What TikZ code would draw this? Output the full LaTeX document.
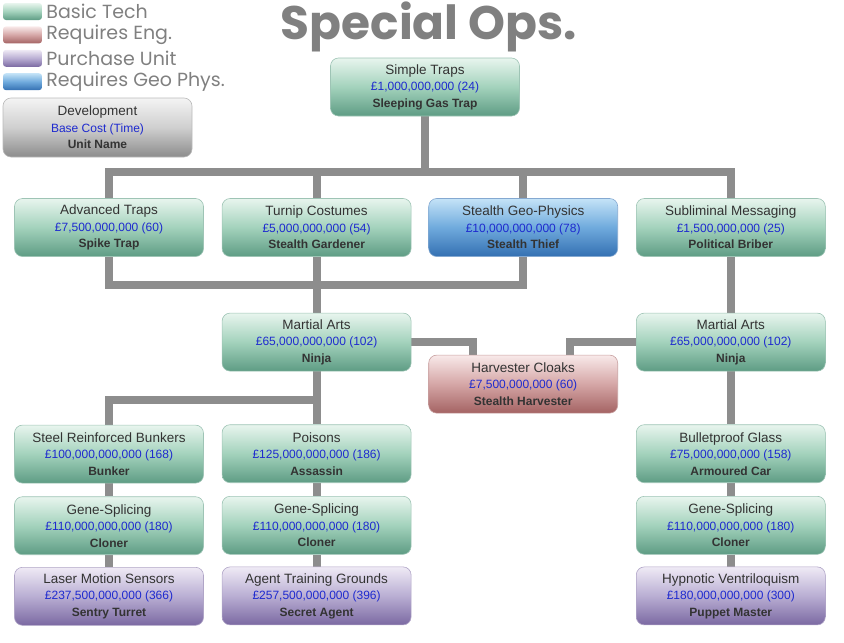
\documentclass[tikz,border=0pt]{standalone}
\usepackage{fontspec}
\setmainfont{Liberation Sans}
\newfontfamily\handfont{Poppins}
\usetikzlibrary{positioning,backgrounds}

\definecolor{techtop}{HTML}{E8F5EE}
\definecolor{techmid}{HTML}{A3D2BC}
\definecolor{techbot}{HTML}{5E9C84}
\definecolor{engtop}{HTML}{F8E9E9}
\definecolor{engmid}{HTML}{D5A6A6}
\definecolor{engbot}{HTML}{A46363}
\definecolor{unittop}{HTML}{EFEAF5}
\definecolor{unitmid}{HTML}{B9AED3}
\definecolor{unitbot}{HTML}{7B69A2}
\definecolor{geotop}{HTML}{C4E3F7}
\definecolor{geomid}{HTML}{6FAADD}
\definecolor{geobot}{HTML}{3470B2}
\definecolor{devtop}{HTML}{F4F4F4}
\definecolor{devmid}{HTML}{CFCFCF}
\definecolor{devbot}{HTML}{8C8C8C}
\definecolor{linkgray}{HTML}{8D8D8D}
\definecolor{namegray}{HTML}{333333}
\definecolor{costblue}{HTML}{1E2ACF}
\definecolor{handgray}{HTML}{808080}

\newcommand{\techtext}[3]{{\color{namegray}#1}\\{\fontsize{12}{16.5}\selectfont\color{costblue}#2}\\{\fontsize{12}{16}\selectfont\bfseries\color{namegray}#3}}

\begin{document}
\begin{tikzpicture}[x=1pt,y=1pt,
    font=\fontsize{13.5}{16.5}\selectfont,
    box/.style={rounded corners=8pt,minimum width=189pt,minimum height=58pt,
      align=center,inner sep=2pt,line width=.6pt},
    tech/.style={box,top color=techtop,bottom color=techbot,middle color=techmid,draw=techbot!60!white},
    eng/.style={box,top color=engtop,bottom color=engbot,middle color=engmid,draw=engbot!60!white},
    unit/.style={box,top color=unittop,bottom color=unitbot,middle color=unitmid,draw=unitbot!60!white},
    geo/.style={box,top color=geotop,bottom color=geobot,middle color=geomid,draw=geobot!60!white},
    dev/.style={box,top color=devtop,bottom color=devbot,middle color=devmid,draw=devbot!60!white},
    swatch/.style={rounded corners=3pt,minimum width=39pt,minimum height=17pt,inner sep=0pt},
    legtext/.style={inner sep=0pt,text=handgray,font=\handfont\fontsize{19}{19}\selectfont},
    link/.style={draw=linkgray,line width=8pt}]
  \useasboundingbox (0,0) rectangle (844,-643);

  % legend
  \node[swatch,top color=techtop,bottom color=techbot,middle color=techmid] (leg1) at (22.5,-11.5) {};
  \node[swatch,top color=engtop,bottom color=engbot,middle color=engmid,below=6pt of leg1] (leg2) {};
  \node[swatch,top color=unittop,bottom color=unitbot,middle color=unitmid,below=6pt of leg2] (leg3) {};
  \node[swatch,top color=geotop,bottom color=geobot,middle color=geomid,below=6pt of leg3] (leg4) {};
  \node[legtext,right=4pt of leg1] (legtxt1) {Basic Tech};
  \node[legtext,right=4pt of leg2] (legtxt2) {Requires Eng.};
  \node[legtext,right=4pt of leg3] (legtxt3) {Purchase Unit};
  \node[legtext,right=4pt of leg4] (legtxt4) {Requires Geo Phys.};
  \node[dev,minimum height=59pt] (devkey) at (97.5,-127.5)
    {\techtext{Development}{Base Cost (Time)}{Unit Name}};

  \node[text=handgray,font=\handfont\bfseries\fontsize{47}{47}\selectfont] (title) at (429,-27) {Special Ops.};

  % tree
  \node[tech] (simple) at (425,-87) {\techtext{Simple Traps}{£1,000,000,000 (24)}{Sleeping Gas Trap}};
  \node[tech] (advtraps) at (109,-227.5) {\techtext{Advanced Traps}{£7,500,000,000 (60)}{Spike Trap}};
  \node[tech,right=18pt of advtraps] (turnip) {\techtext{Turnip Costumes}{£5,000,000,000 (54)}{Stealth Gardener}};
  \node[geo,right=17pt of turnip] (stealthgeo) {\techtext{Stealth Geo-Physics}{£10,000,000,000 (78)}{Stealth Thief}};
  \node[tech,right=18pt of stealthgeo] (sublim) {\techtext{Subliminal Messaging}{£1,500,000,000 (25)}{Political Briber}};

  \node[tech,below=56pt of turnip] (martleft) {\techtext{Martial Arts}{£65,000,000,000 (102)}{Ninja}};
  \node[tech,below=56pt of sublim] (martright) {\techtext{Martial Arts}{£65,000,000,000 (102)}{Ninja}};
  \node[eng,below=98pt of stealthgeo] (cloaks) {\techtext{Harvester Cloaks}{£7,500,000,000 (60)}{Stealth Harvester}};

  \node[tech,below=168pt of advtraps] (bunkers) {\techtext{Steel Reinforced Bunkers}{£100,000,000,000 (168)}{Bunker}};
  \node[tech,below=53pt of martleft] (poisons) {\techtext{Poisons}{£125,000,000,000 (186)}{Assassin}};
  \node[tech,below=53pt of martright] (glass) {\techtext{Bulletproof Glass}{£75,000,000,000 (158)}{Armoured Car}};

  \node[tech,below=13pt of bunkers] (geneA) {\techtext{Gene-Splicing}{£110,000,000,000 (180)}{Cloner}};
  \node[tech,below=13pt of poisons] (geneB) {\techtext{Gene-Splicing}{£110,000,000,000 (180)}{Cloner}};
  \node[tech,below=13pt of glass] (geneC) {\techtext{Gene-Splicing}{£110,000,000,000 (180)}{Cloner}};

  \node[unit,below=12pt of geneA] (laser) {\techtext{Laser Motion Sensors}{£237,500,000,000 (366)}{Sentry Turret}};
  \node[unit,below=12pt of geneB] (agent) {\techtext{Agent Training Grounds}{£257,500,000,000 (396)}{Secret Agent}};
  \node[unit,below=12pt of geneC] (hypno) {\techtext{Hypnotic Ventriloquism}{£180,000,000,000 (300)}{Puppet Master}};

  \begin{scope}[on background layer]
    \foreach \kid in {advtraps,turnip,stealthgeo,sublim}
      \draw[link] (simple.south) |- ([yshift=26pt]\kid.north) -- (\kid.north);
    \foreach \kid in {advtraps,turnip,stealthgeo}
      \draw[link] (\kid.south) |- ([yshift=28pt]martleft.north) -- (martleft.north);
    \draw[link] (sublim) -- (martright);
    \draw[link] (martleft.east) -| ([xshift=-50pt]cloaks.north);
    \draw[link] (martright.west) -| ([xshift=47pt]cloaks.north);
    \draw[link] (martleft.south) |- ([yshift=25pt]bunkers.north) -- (bunkers.north);
    \draw[link] (martleft) -- (poisons);
    \draw[link] (martright) -- (glass);
    \draw[link] (bunkers) -- (geneA) -- (laser);
    \draw[link] (poisons) -- (geneB) -- (agent);
    \draw[link] (glass) -- (geneC) -- (hypno);
  \end{scope}
\end{tikzpicture}
\end{document}
